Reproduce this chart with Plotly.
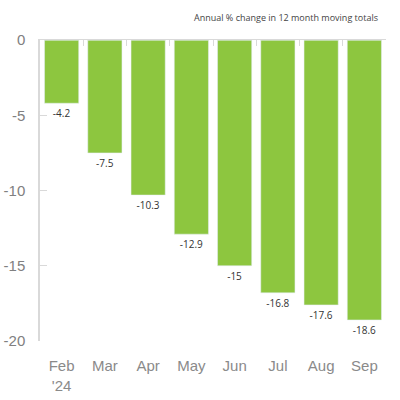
import plotly.graph_objects as go

months = ["Feb<br>'24", "Mar", "Apr", "May", "Jun", "Jul", "Aug", "Sep"]
pct_change = [-4.2, -7.5, -10.3, -12.9, -15, -16.8, -17.6, -18.6]
y_ticks = [0, -5, -10, -15, -20]

fig = go.Figure()

fig.add_trace(go.Bar(
    x=months,
    y=pct_change,
    marker_color='#8DC63F',
    width=0.79,
    text=[str(v) for v in pct_change],
    textposition='outside',
    textfont=dict(family='Open Sans', size=10, color='#333333'),
    cliponaxis=False,
))

# invisible twin axis at the top to draw the zero line with boundary ticks
fig.add_trace(go.Bar(x=months, y=[0] * len(months), xaxis='x2', showlegend=False,
                     hoverinfo='skip', marker_color='rgba(0,0,0,0)'))

fig.update_layout(
    width=400,
    height=400,
    margin=dict(l=40, r=14, t=40, b=59),
    paper_bgcolor='white',
    plot_bgcolor='white',
    showlegend=False,
    bargap=0.21,
    xaxis=dict(
        showline=False, showgrid=False, ticks='',
        tickfont=dict(family='Liberation Sans', size=15, color='#8a8a8a'),
        ticklabelstandoff=14,
        automargin=False,
        fixedrange=True,
    ),
    xaxis2=dict(
        overlaying='x', side='top', showticklabels=False,
        showline=True, linecolor='#d9d9d9', linewidth=1,
        ticks='inside', tickson='boundaries', ticklen=6, tickcolor='#d9d9d9',
        showgrid=False, matches='x', automargin=False,
    ),
    yaxis=dict(
        range=[-20, 0],
        tickvals=y_ticks,
        ticktext=[str(v) for v in y_ticks],
        showline=True, linecolor='#d9d9d9', linewidth=1.5,
        ticks='inside', ticklen=7, tickcolor='#d9d9d9',
        showgrid=False, zeroline=False,
        tickfont=dict(family='Liberation Sans', size=15, color='#808080'),
        ticklabelstandoff=10,
        automargin=False,
    ),
    annotations=[dict(
        text='Annual % change in 12 month moving totals',
        x=(380 - 40) / 346, y=1 + (40 - 18) / 301,
        xref='paper', yref='paper', showarrow=False,
        xanchor='right', yanchor='middle',
        font=dict(family='Open Sans', size=9, color='#444444'),
    )],
)

# drop the default 8px page margin so the figure sits at the window corner
fig.write_html("out.html", config={'displayModeBar': False},
               post_script="document.body.style.margin = '0';")
